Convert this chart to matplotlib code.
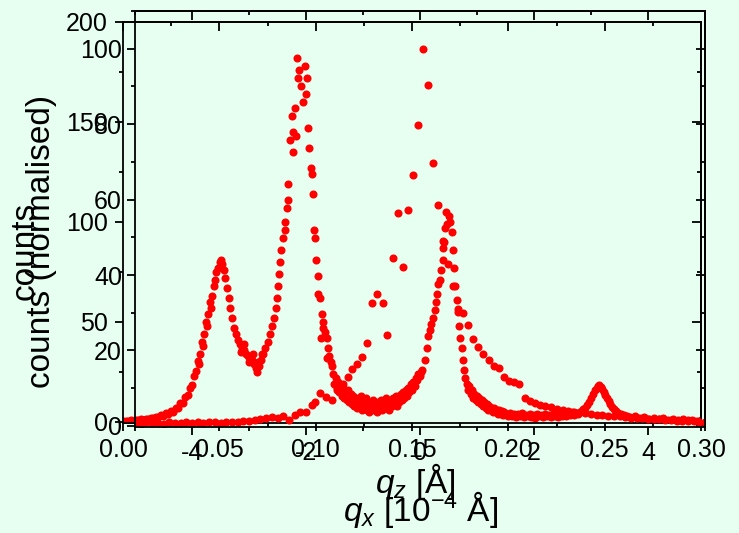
import matplotlib
matplotlib.use("Agg")
import matplotlib.pyplot as plt
from matplotlib.ticker import MultipleLocator

plt.rcParams['font.family'] = ['Liberation Sans', 'DejaVu Sans']
plt.rcParams['mathtext.fontset'] = 'custom'
plt.rcParams['mathtext.rm'] = 'Liberation Sans'
plt.rcParams['mathtext.it'] = 'Liberation Sans:italic'
plt.rcParams['axes.unicode_minus'] = False

BG = '#e6fff0'
RED = '#ff0000'

# ── q_z scan (counts) ─────────────────────────────────────────────────────────
scan_points = [
    (0.0000, 0.3), (0.0013, 0.6), (0.0026, 0.4), (0.0039, 0.8), (0.0052, 0.5),
    (0.0065, 1.0), (0.0078, 0.7), (0.0091, 1.2), (0.0104, 1.0), (0.0117, 1.6),
    (0.0130, 1.3), (0.0143, 2.0), (0.0156, 1.8), (0.0169, 2.6), (0.0182, 2.3),
    (0.0195, 3.3), (0.0208, 3.0), (0.0221, 4.2), (0.0234, 3.9), (0.0247, 5.4),
    (0.0260, 5.0), (0.0273, 7.0), (0.0285, 6.8), (0.0298, 9.2), (0.0311, 9.5),
    (0.0324, 12.5), (0.0337, 13.5), (0.0348, 17.0), (0.0358, 18.5), (0.0369, 23.0),
    (0.0379, 25.5), (0.0390, 30.5), (0.0395, 29.0), (0.0400, 34.0), (0.0410, 40.0),
    (0.0415, 38.0), (0.0420, 44.0), (0.0431, 50.0), (0.0436, 48.0), (0.0441, 54.0),
    (0.0452, 60.0), (0.0457, 57.0), (0.0462, 63.0), (0.0470, 68.0), (0.0477, 71.0),
    (0.0485, 75.0), (0.0493, 77.0), (0.0501, 80.0), (0.0509, 81.0), (0.0516, 79.0),
    (0.0524, 76.0), (0.0532, 72.0), (0.0540, 67.0), (0.0548, 62.0), (0.0555, 57.0),
    (0.0566, 52.0), (0.0576, 47.0), (0.0586, 44.0), (0.0597, 41.0), (0.0607, 39.0),
    (0.0610, 35.0), (0.0618, 37.0), (0.0628, 36.0), (0.0630, 39.0), (0.0638, 34.0),
    (0.0649, 33.0), (0.0655, 30.0), (0.0659, 32.0), (0.0670, 31.0), (0.0675, 34.0),
    (0.0680, 29.0), (0.0688, 27.0), (0.0695, 25.0), (0.0700, 30.0), (0.0706, 28.0),
    (0.0716, 31.0), (0.0720, 34.0), (0.0727, 34.0), (0.0737, 37.0), (0.0750, 40.0),
    (0.0763, 44.0), (0.0773, 48.0), (0.0784, 52.0), (0.0792, 57.0), (0.0799, 62.0),
    (0.0805, 68.0), (0.0810, 74.0), (0.0815, 80.0), (0.0820, 86.0), (0.0830, 92.0),
    (0.0841, 96.0), (0.0841, 100.0), (0.0851, 107.0), (0.0856, 111.0), (0.0856, 119.0),
    (0.0867, 141.0), (0.0877, 153.0), (0.0882, 145.0), (0.0882, 135.0), (0.0893, 157.0),
    (0.0898, 143.0), (0.0903, 182.0), (0.0908, 172.0), (0.0913, 176.0), (0.0924, 168.0),
    (0.0934, 160.0), (0.0945, 178.0), (0.0950, 164.0), (0.0955, 172.0), (0.0960, 147.0),
    (0.0965, 137.0), (0.0976, 127.0), (0.0981, 124.0), (0.0986, 114.0), (0.0991, 96.0),
    (0.0997, 92.0), (0.1002, 81.0), (0.1012, 73.0), (0.1012, 64.0), (0.1022, 62.0),
    (0.1028, 42.0), (0.1033, 54.0), (0.1038, 50.0), (0.1038, 47.0), (0.1048, 45.0),
    (0.1059, 42.0), (0.1059, 32.0), (0.1064, 37.0), (0.1070, 33.0), (0.1078, 30.0),
    (0.1085, 28.0), (0.1090, 24.0), (0.1096, 19.0), (0.1103, 22.0), (0.1110, 17.0),
    (0.1116, 20.0), (0.1123, 15.0), (0.1129, 18.0), (0.1136, 13.0), (0.1142, 17.0),
    (0.1149, 12.0), (0.1155, 15.0), (0.1162, 11.0), (0.1168, 16.0), (0.1175, 10.0),
    (0.1181, 14.0), (0.1188, 9.0), (0.1194, 13.0), (0.1201, 8.0), (0.1207, 12.0),
    (0.1214, 7.0), (0.1220, 11.0), (0.1227, 9.0), (0.1233, 13.0), (0.1240, 6.0),
    (0.1246, 10.0), (0.1253, 8.0), (0.1259, 12.0), (0.1266, 6.0), (0.1272, 9.0),
    (0.1279, 5.0), (0.1285, 10.0), (0.1292, 7.0), (0.1298, 11.0), (0.1305, 6.0),
    (0.1311, 9.0), (0.1318, 5.0), (0.1324, 10.0), (0.1331, 7.0), (0.1337, 11.0),
    (0.1344, 6.0), (0.1350, 9.0), (0.1357, 8.0), (0.1363, 12.0), (0.1370, 7.0),
    (0.1376, 10.0), (0.1383, 6.0), (0.1389, 11.0), (0.1396, 8.0), (0.1402, 12.0),
    (0.1409, 9.0), (0.1415, 13.0), (0.1422, 8.0), (0.1428, 12.0), (0.1435, 10.0),
    (0.1441, 14.0), (0.1448, 11.0), (0.1454, 15.0), (0.1461, 12.0), (0.1467, 16.0),
    (0.1474, 13.0), (0.1480, 17.0), (0.1487, 15.0), (0.1493, 19.0), (0.1500, 16.0),
    (0.1506, 20.0), (0.1513, 18.0), (0.1519, 22.0), (0.1526, 21.0), (0.1532, 24.0),
    (0.1539, 23.0), (0.1545, 25.0), (0.1552, 26.0), (0.1565, 31.0), (0.1578, 37.0),
    (0.1583, 43.0), (0.1593, 46.0), (0.1600, 49.0), (0.1609, 52.0), (0.1619, 56.0),
    (0.1625, 60.0), (0.1630, 64.0), (0.1635, 69.0), (0.1645, 71.0), (0.1652, 76.0),
    (0.1661, 81.0), (0.1661, 87.0), (0.1666, 90.0), (0.1671, 97.0), (0.1676, 105.0),
    (0.1682, 99.0), (0.1690, 103.0), (0.1697, 100.0), (0.1708, 95.0), (0.1713, 86.0),
    (0.1718, 77.0), (0.1723, 68.0), (0.1734, 61.0), (0.1739, 55.0), (0.1744, 48.0),
    (0.1749, 42.0), (0.1759, 37.0), (0.1765, 31.0), (0.1770, 26.0), (0.1775, 22.0),
    (0.1785, 19.0), (0.1792, 16.0), (0.1798, 18.0), (0.1805, 14.0), (0.1811, 16.0),
    (0.1818, 12.0), (0.1824, 14.0), (0.1831, 11.0), (0.1837, 13.0), (0.1844, 10.0),
    (0.1850, 12.0), (0.1857, 9.0), (0.1863, 11.0), (0.1870, 8.0), (0.1876, 10.0),
    (0.1883, 7.0), (0.1889, 9.0), (0.1896, 6.0), (0.1902, 8.0), (0.1909, 6.0),
    (0.1915, 7.0), (0.1922, 5.0), (0.1928, 7.0), (0.1935, 5.0), (0.1941, 6.0),
    (0.1948, 4.0), (0.1954, 6.0), (0.1961, 4.0), (0.1967, 5.5), (0.1974, 3.5),
    (0.1980, 5.0), (0.1990, 4.0), (0.2000, 3.0), (0.2010, 4.5), (0.2020, 3.0),
    (0.2030, 4.0), (0.2040, 2.5), (0.2050, 4.0), (0.2060, 3.0), (0.2070, 4.5),
    (0.2080, 2.5), (0.2090, 3.5), (0.2100, 3.0), (0.2110, 4.0), (0.2120, 2.5),
    (0.2130, 3.5), (0.2140, 2.0), (0.2150, 4.0), (0.2160, 3.0), (0.2170, 3.5),
    (0.2180, 2.5), (0.2190, 4.0), (0.2200, 3.0), (0.2210, 3.5), (0.2220, 2.5),
    (0.2230, 4.0), (0.2240, 3.0), (0.2250, 3.5), (0.2260, 2.5), (0.2270, 4.0),
    (0.2280, 3.0), (0.2290, 4.5), (0.2300, 3.0), (0.2310, 4.0), (0.2320, 3.5),
    (0.2330, 5.0), (0.2340, 3.5), (0.2350, 4.5), (0.2360, 4.0), (0.2370, 5.0),
    (0.2380, 5.5), (0.2390, 6.5), (0.2400, 7.0), (0.2410, 8.5), (0.2420, 10.0),
    (0.2430, 12.0), (0.2440, 14.0), (0.2450, 16.0), (0.2458, 17.0), (0.2465, 18.0),
    (0.2472, 18.5), (0.2480, 17.5), (0.2488, 16.5), (0.2496, 15.0), (0.2504, 13.5),
    (0.2512, 12.0), (0.2520, 10.5), (0.2530, 9.0), (0.2540, 7.5), (0.2550, 6.5),
    (0.2560, 5.5), (0.2570, 4.5), (0.2585, 4.0), (0.2600, 3.5), (0.2615, 3.0),
    (0.2630, 2.5), (0.2655, 2.8), (0.2680, 2.0), (0.2705, 2.3), (0.2730, 1.6),
    (0.2755, 2.0), (0.2780, 1.4), (0.2805, 1.7), (0.2830, 1.1), (0.2855, 1.4),
    (0.2880, 0.9), (0.2905, 1.2), (0.2930, 0.8), (0.2955, 1.0), (0.2980, 0.6),
    (0.3000, 0.8),
]
qz = [p[0] for p in scan_points]
counts = [p[1] for p in scan_points]

# ── q_x rocking curve (normalised counts) ────────────────────────────────────
rock_points = [
    (-5.0, 0.8), (-4.9, 0.6), (-4.8, 0.9), (-4.7, 0.7), (-4.6, 0.8), (-4.5, 0.6),
    (-4.4, 0.9), (-4.3, 0.8), (-4.2, 0.7), (-4.1, 1.0), (-4.0, 0.8), (-3.9, 0.9),
    (-3.8, 0.7), (-3.7, 1.0), (-3.6, 0.9), (-3.5, 0.8), (-3.4, 1.1), (-3.3, 0.9),
    (-3.2, 1.0), (-3.1, 1.2), (-3.0, 1.3), (-2.9, 1.5), (-2.8, 1.9), (-2.7, 2.1),
    (-2.6, 2.3), (-2.5, 2.0), (-2.4, 2.5), (-2.3, 1.6), (-2.2, 2.9), (-2.1, 3.7),
    (-2.0, 3.7), (-1.9, 5.6), (-1.85, 6.4), (-1.75, 8.7), (-1.65, 7.7), (-1.55, 6.9),
    (-1.45, 9.5), (-1.35, 11.0), (-1.27, 13.0), (-1.19, 15.1), (-1.10, 16.5),
    (-1.02, 18.3), (-0.93, 22.0), (-0.84, 32.6), (-0.75, 35.0), (-0.65, 32.6),
    (-0.58, 24.1), (-0.47, 44.5), (-0.39, 56.4), (-0.30, 42.1), (-0.21, 57.2),
    (-0.12, 66.5), (-0.04, 79.7), (0.05, 100.0), (0.14, 90.3), (0.23, 69.7),
    (0.32, 58.5), (0.40, 49.0), (0.49, 43.0), (0.58, 37.0), (0.67, 31.0),
    (0.75, 30.0), (0.84, 26.7), (0.93, 23.0), (1.02, 21.0), (1.11, 19.1),
    (1.21, 17.5), (1.30, 16.0), (1.39, 15.4), (1.47, 13.0), (1.56, 12.0),
    (1.65, 11.5), (1.74, 11.1), (1.84, 7.4), (1.93, 6.5), (2.02, 6.0), (2.1, 5.6),
    (2.2, 5.3), (2.3, 4.9), (2.4, 4.5), (2.5, 4.3), (2.6, 4.0), (2.7, 3.8),
    (2.8, 3.6), (2.9, 3.4), (3.0, 3.2), (3.1, 3.0), (3.2, 2.9), (3.3, 2.7),
    (3.4, 2.6), (3.5, 2.5), (3.6, 2.4), (3.7, 2.2), (3.8, 2.1), (3.9, 2.0),
    (4.0, 1.9), (4.1, 1.8), (4.2, 1.7), (4.3, 1.6), (4.4, 1.5), (4.5, 1.4),
    (4.6, 1.3), (4.7, 1.3), (4.8, 1.2), (4.9, 1.1), (5.0, 1.0),
]
qx = [p[0] for p in rock_points]
norm_counts = [p[1] for p in rock_points]

W, H = 739, 533
fig = plt.figure(figsize=(W / 100, H / 100), dpi=100)
fig.patch.set_facecolor(BG)


def rect(l, t, r, b):
    return [l / W, 1 - b / H, (r - l) / W, (b - t) / H]


def frame(ax, xlim, ylim, xmaj, xmin, ymaj, ymin, xpad, ypad):
    ax.set_facecolor('none')
    ax.set_xlim(*xlim)
    ax.set_ylim(*ylim)
    ax.xaxis.set_major_locator(MultipleLocator(xmaj))
    ax.xaxis.set_minor_locator(MultipleLocator(xmin))
    ax.yaxis.set_major_locator(MultipleLocator(ymaj))
    ax.yaxis.set_minor_locator(MultipleLocator(ymin))
    ax.tick_params(which='both', direction='out', top=False, right=False,
                   labelsize=18, width=1.3, color='black')
    ax.tick_params(which='major', length=5.8)
    ax.tick_params(which='minor', length=3.2)
    ax.tick_params(axis='x', pad=xpad)
    ax.tick_params(axis='y', pad=ypad)
    for s in ax.spines.values():
        s.set_linewidth(1.3)
    # inward ticks on top and right
    top = ax.secondary_xaxis('top')
    top.xaxis.set_major_locator(MultipleLocator(xmaj))
    top.xaxis.set_minor_locator(MultipleLocator(xmin))
    top.tick_params(which='both', direction='in', labeltop=False, width=1.3)
    top.tick_params(which='major', length=6.2)
    top.tick_params(which='minor', length=3.0)
    top.spines['top'].set_linewidth(1.3)
    right = ax.secondary_yaxis('right')
    right.yaxis.set_major_locator(MultipleLocator(ymaj))
    right.yaxis.set_minor_locator(MultipleLocator(ymin))
    right.tick_params(which='both', direction='in', labelright=False, width=1.3)
    right.tick_params(which='major', length=6.2)
    right.tick_params(which='minor', length=3.0)
    right.spines['right'].set_linewidth(1.3)


ax_q = fig.add_axes(rect(123, 22, 701, 423))
ax_r = fig.add_axes(rect(135, 11, 705, 427))

frame(ax_q, (0, 0.30), (-0.6, 200), 0.05, 0.025, 50, 25, 5.3, 5.0)
frame(ax_r, (-5, 5), (-0.3, 110), 2, 1, 20, 10, 4.6, 3.5)

ax_q.xaxis.set_major_formatter(lambda v, pos: f"{v:.2f}")

ax_q.plot(qz, counts, 'o', ms=5.8, color=RED, mew=0)
ax_r.plot(qx, norm_counts, 'o', ms=5.8, color=RED, mew=0)

ax_q.set_ylabel('counts', fontsize=24, va='center')
ax_q.yaxis.set_label_coords(25 / W, 1 - 251 / H, transform=fig.transFigure)
ax_r.set_ylabel('counts (normalised)', fontsize=24, va='center')
ax_r.yaxis.set_label_coords(42 / W, 1 - 241 / H, transform=fig.transFigure)

ax_q.set_xlabel(r'$q_z$ [Å]', fontsize=24, va='center')
ax_q.xaxis.set_label_coords(415 / W, 1 - 482 / H, transform=fig.transFigure)
ax_r.set_xlabel(r'$q_x$ [10$^{-4}$ Å]', fontsize=24, va='center')
ax_r.xaxis.set_label_coords(421 / W, 1 - 510 / H, transform=fig.transFigure)

fig.savefig('out.png', dpi=100, facecolor=fig.get_facecolor())
